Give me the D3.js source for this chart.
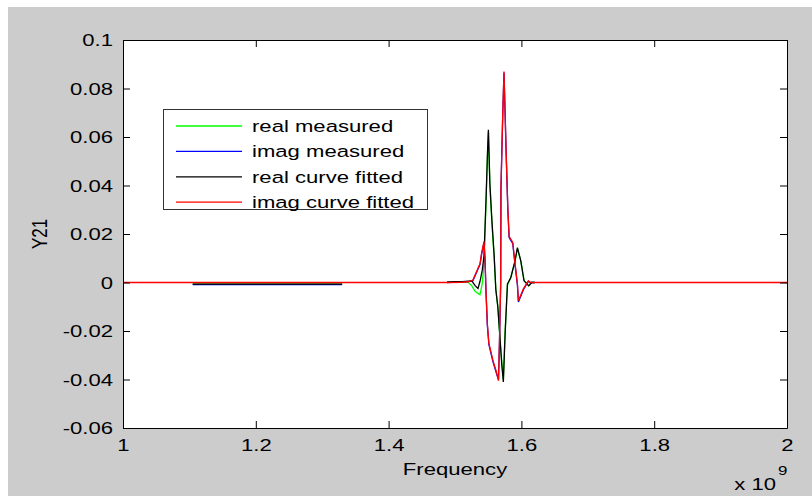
<!DOCTYPE html>
<html>
<head>
<meta charset="utf-8">
<script src="https://cdn.jsdelivr.net/npm/d3@7/dist/d3.min.js"></script>
<style>
  html, body { margin: 0; padding: 0; background: #ffffff; }
  svg { display: block; }
  text { font-family: "Liberation Sans", Arial, sans-serif; fill: #000; }
</style>
</head>
<body>
<svg id="chart" width="812" height="496"></svg>
<script>
// ---- data (frequency in units of 1e9 Hz) ----
const freqReal = [1.0, 1.105, 1.33, 1.40, 1.488, 1.500, 1.5105, 1.520, 1.5256, 1.530, 1.5346, 1.5377,
  1.541, 1.5437, 1.5467, 1.549, 1.5503, 1.5525, 1.5555, 1.559, 1.5615, 1.5645, 1.568, 1.5705,
  1.5728, 1.5755, 1.579, 1.584, 1.5905, 1.594, 1.599, 1.604, 1.611, 1.6155, 1.620, 2.0];
const realMeasured = [null, -0.0006, -0.0006, null, 0.0002, 0.0003, 0.0003, 0.0001, -0.0015, -0.0035, -0.0045, -0.005,
  -0.0005, 0.008, 0.033, 0.053, 0.062, 0.040, 0.025, 0.010, -0.003, -0.010, -0.024, -0.033,
  -0.040, -0.020, -0.001, 0.002, 0.009, 0.014, 0.009, 0.0007, -0.0014, 0, 0, null];
const realFitted = [null, -0.0007, -0.0007, null, 0.0001, 0.0004, 0.0004, 0.0006, 0.0006, -0.0012, -0.0025, 0.0005,
  0.005, 0.011, 0.034, 0.054, 0.063, 0.041, 0.026, 0.011, -0.003, -0.010, -0.024, -0.034,
  -0.041, -0.021, -0.0006, 0.002, 0.009, 0.0144, 0.009, 0.0007, -0.0014, 0, 0, null];

const freqImag = [1.0, 1.105, 1.33, 1.40, 1.488, 1.5105, 1.520, 1.527, 1.5377, 1.540, 1.5437, 1.5452,
  1.5467, 1.5487, 1.551, 1.557, 1.5625, 1.5655, 1.567, 1.5688, 1.5692, 1.572, 1.5738, 1.577,
  1.5795, 1.5815, 1.587, 1.5905, 1.594, 1.5955, 1.603, 1.6105, 1.613, 1.620, 2.0];
const imagMeasured = [null, -0.0009, -0.0009, null, 0, 0.0003, 0.0004, 0.0008, 0.0075, 0.0115, 0.0165, 0.0095,
  -0.004, -0.0175, -0.0255, -0.0325, -0.0375, -0.040, -0.0245, -0.0005, 0.0385, 0.070, 0.0865, 0.0535,
  0.0305, 0.0185, 0.016, 0.007, -0.001, -0.008, -0.003, 0.0005, 0, 0, null];
const imagFitted = [0, 0, 0, 0, 0, 0.0001, 0.0003, 0.001, 0.0077, 0.012, 0.017, 0.010,
  -0.0035, -0.017, -0.025, -0.032, -0.037, -0.0405, -0.024, 0.0, 0.039, 0.0707, 0.087, 0.054,
  0.031, 0.019, 0.0165, 0.0077, -0.0006, -0.0075, -0.0026, 0.0007, 0, 0, 0];

const seriesNames = ["real measured", "imag measured", "real curve fitted", "imag curve fitted"];
const seriesColors = ["#00ff00", "#0000ff", "#000000", "#ff0000"];

const xTicks = [1, 1.2, 1.4, 1.6, 1.8, 2];
const xTickLabels = ["1", "1.2", "1.4", "1.6", "1.8", "2"];
const yTicks = [0.1, 0.08, 0.06, 0.04, 0.02, 0, -0.02, -0.04, -0.06];
const yTickLabels = ["0.1", "0.08", "0.06", "0.04", "0.02", "0", "-0.02", "-0.04", "-0.06"];

// ---- layout ----
const W = 812, H = 496;
const plot = { left: 123, right: 787, top: 40, bottom: 428 };
const SX = 1.3;      // horizontal stretch of the text in the reference
const FS = 17;
const TICK = 7;

const svg = d3.select("#chart");
svg.append("rect").attr("x", 8).attr("y", 7).attr("width", W - 8).attr("height", H - 7).attr("fill", "#cccccc");
svg.append("rect").attr("x", plot.left).attr("y", plot.top)
  .attr("width", plot.right - plot.left).attr("height", plot.bottom - plot.top).attr("fill", "#ffffff");

const x = d3.scaleLinear().domain([1, 2]).range([plot.left, plot.right]);
const y = d3.scaleLinear().domain([-0.06, 0.1]).range([plot.bottom, plot.top]);

function stretchedText(g, tx, ty, str, opts = {}) {
  const grp = g.append("g").attr("transform", `translate(${tx},${ty}) scale(${SX},1)` + (opts.rotate ? ` rotate(${opts.rotate})` : ""));
  return grp.append("text").attr("x", 0).attr("y", 0)
    .attr("text-anchor", opts.anchor || "start")
    .attr("font-size", opts.size || FS)
    .text(str);
}

// clip
svg.append("clipPath").attr("id", "clip").append("rect")
  .attr("x", plot.left).attr("y", plot.top).attr("width", plot.right - plot.left).attr("height", plot.bottom - plot.top);

// lines
const lines = [
  { f: freqReal, v: realMeasured },
  { f: freqImag, v: imagMeasured },
  { f: freqReal, v: realFitted },
  { f: freqImag, v: imagFitted }
];
const lineGen = d3.line().defined(d => d[1] !== null).x(d => x(d[0])).y(d => y(d[1]));
const lg = svg.append("g").attr("clip-path", "url(#clip)");
lines.forEach((s, i) => {
  const pts = s.f.map((f, k) => [f, s.v[k]]);
  lg.append("path").datum(pts).attr("d", lineGen)
    .attr("fill", "none").attr("stroke", seriesColors[i]).attr("stroke-width", 1.3)
    .attr("stroke-linejoin", "miter");
});

// axes
const axB = d3.axisBottom(x).tickValues(xTicks).tickFormat((d, i) => xTickLabels[i]).tickSizeInner(-TICK).tickSizeOuter(0);
const axT = d3.axisTop(x).tickValues(xTicks).tickFormat("").tickSizeInner(-TICK).tickSizeOuter(0);
const axL = d3.axisLeft(y).tickValues(yTicks).tickFormat((d, i) => yTickLabels[i]).tickSizeInner(-TICK).tickSizeOuter(0);
const axR = d3.axisRight(y).tickValues(yTicks).tickFormat("").tickSizeInner(-TICK).tickSizeOuter(0);

function styleAxis(g) {
  g.selectAll("path.domain").attr("stroke", "#000").attr("stroke-width", 1);
  g.selectAll(".tick line").attr("stroke", "#000").attr("stroke-width", 1);
  g.attr("font-family", null).attr("font-size", null);
}

const gB = svg.append("g").attr("transform", `translate(0,${plot.bottom})`).call(axB).call(styleAxis);
gB.selectAll(".tick text").attr("y", 0).attr("dy", null)
  .attr("font-size", FS)
  .attr("transform", `translate(0,23) scale(${SX},1)`);

svg.append("g").attr("transform", `translate(0,${plot.top})`).call(axT).call(styleAxis);

const gL = svg.append("g").attr("transform", `translate(${plot.left},0)`).call(axL).call(styleAxis);
gL.selectAll(".tick text").attr("x", 0).attr("dy", "0.35em")
  .attr("font-size", FS)
  .attr("transform", `translate(-10,0) scale(${SX},1)`);

svg.append("g").attr("transform", `translate(${plot.right},0)`).call(axR).call(styleAxis);

// axis titles
stretchedText(svg, (plot.left + plot.right) / 2, 475, "Frequency", { anchor: "middle" });
stretchedText(svg, 47, (plot.top + plot.bottom) / 2, "Y21", { anchor: "middle", rotate: -90 });
stretchedText(svg, 776, 490, "x 10", { anchor: "end" });
stretchedText(svg, 778, 475, "9", { anchor: "start", size: 13 });

// legend
const leg = { x: 163, y: 109, w: 264, h: 100 };
svg.append("rect").attr("x", leg.x + 0.5).attr("y", leg.y + 0.5).attr("width", leg.w).attr("height", leg.h)
  .attr("fill", "#ffffff").attr("stroke", "#333333").attr("stroke-width", 1);
seriesNames.forEach((name, i) => {
  const cy = 126 + i * 25.4;
  svg.append("line").attr("x1", 176).attr("x2", 242).attr("y1", cy).attr("y2", cy)
    .attr("stroke", seriesColors[i]).attr("stroke-width", 1.3);
  stretchedText(svg, 252, cy + 6, name, { anchor: "start" });
});
</script>
</body>
</html>
